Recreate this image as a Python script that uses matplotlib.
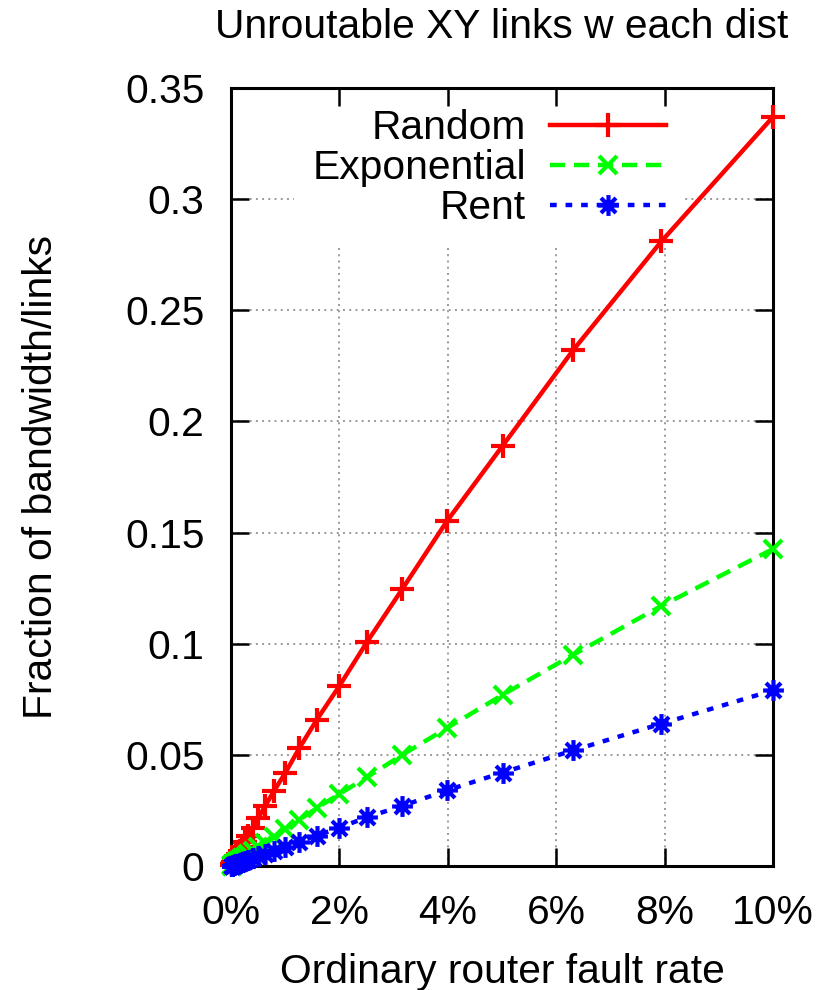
import matplotlib
matplotlib.use("Agg")
import matplotlib.pyplot as plt
from matplotlib.path import Path

plt.rcParams['font.family'] = ['Liberation Sans', 'DejaVu Sans']

# fault rate (fraction), log spaced from 10% down to 0.01%
fault_rate = [0.1, 0.0794, 0.0631, 0.0501, 0.0398, 0.0316, 0.0251, 0.02, 0.0158, 0.0126,
              0.01, 0.00794, 0.00631, 0.00501, 0.00398, 0.00316, 0.00251, 0.002, 0.00158, 0.00126,
              0.001, 0.000794, 0.000631, 0.000501, 0.000398, 0.000316, 0.000251, 0.0002, 0.000158,
              0.000126, 0.0001]

random_frac = [0.337, 0.281, 0.232, 0.189, 0.155, 0.1246, 0.1008, 0.081, 0.0657, 0.053,
               0.0418, 0.0338, 0.027, 0.0215, 0.0171, 0.0136, 0.0108, 0.0086, 0.0068, 0.0054,
               0.0043, 0.0034, 0.0027, 0.0022, 0.0017, 0.0014, 0.0011, 0.00087, 0.00069,
               0.00055, 0.00044]

expon_frac = [0.1426, 0.117, 0.095, 0.077, 0.062, 0.05, 0.04, 0.0324, 0.026, 0.0208,
              0.0166, 0.0132, 0.0105, 0.0084, 0.0067, 0.0053, 0.0042, 0.0034, 0.0027, 0.0021,
              0.0017, 0.00135, 0.00107, 0.00085, 0.00068, 0.00054, 0.00043, 0.00034, 0.00027,
              0.00021, 0.00017]

rent_frac = [0.079, 0.064, 0.052, 0.042, 0.034, 0.027, 0.022, 0.0172, 0.0137, 0.0109,
             0.0087, 0.0069, 0.0055, 0.0044, 0.0035, 0.0028, 0.0022, 0.00175, 0.0014, 0.0011,
             0.00088, 0.0007, 0.00056, 0.00044, 0.00035, 0.00028, 0.00022, 0.00018, 0.00014,
             0.00011, 0.000088]

xticks = [0, 0.02, 0.04, 0.06, 0.08, 0.1]
xtick_labels = ['0%', '2%', '4%', '6%', '8%', '10%']
yticks = [0, 0.05, 0.1, 0.15, 0.2, 0.25, 0.3, 0.35]
ytick_labels = ['0', '0.05', '0.1', '0.15', '0.2', '0.25', '0.3', '0.35']

FS = 29.3

# gnuplot style asterisk: plus and cross overlaid
d = 0.72
star = Path([(-1, 0), (1, 0), (0, -1), (0, 1), (-d, -d), (d, d), (-d, d), (d, -d)],
            [Path.MOVETO, Path.LINETO] * 4)

fig = plt.figure(figsize=(8.25, 9.9), dpi=100)
ax = fig.add_axes([231 / 825, 1 - 866 / 990, 542 / 825, 778 / 990])

ax.set_xlim(0, 0.1)
ax.set_ylim(0, 0.35)
ax.set_xticks(xticks)
ax.set_xticklabels(xtick_labels)
ax.set_yticks(yticks)
ax.set_yticklabels(ytick_labels)

# dotted grid drawn by hand so the key box can sit above it but below the ticks
for xv in xticks[1:-1]:
    ax.axvline(xv, color='#999999', lw=1.4, ls=(0, (1, 2.2)), zorder=0.5)
for yv in yticks[1:-1]:
    ax.axhline(yv, color='#999999', lw=1.4, ls=(0, (1, 2.2)), zorder=0.5)

ax.plot(fault_rate, random_frac, color='#ff0000', lw=3.2, ls='-', marker='+',
        ms=17, mew=3, label='Random', clip_on=False, zorder=3)
ax.plot(fault_rate, expon_frac, color='#00ff00', lw=3.2, dashes=(3.4, 2.0), marker='x',
        ms=13.5, mew=3, label='Exponential', clip_on=False, zorder=3.1)
ax.plot(fault_rate, rent_frac, color='#0000ff', lw=3.2, dashes=(1.5, 2.0), marker=star,
        ms=15, mew=3, label='Rent', clip_on=False, zorder=3.2)

ax.tick_params(direction='in', length=13, width=1.8, top=True, right=True,
               labelsize=FS, colors='black')
ax.tick_params(axis='x', pad=20)
ax.tick_params(axis='y', pad=19)
for sp in ax.spines.values():
    sp.set_linewidth(2.2)
    sp.set_zorder(2.5)

leg = ax.legend(loc='upper right', bbox_to_anchor=(0.837, 0.9965), borderaxespad=0,
                fontsize=FS, markerfirst=False, handlelength=2.85, handletextpad=0.6,
                labelspacing=0.05, borderpad=0.45, numpoints=1, frameon=True,
                fancybox=False, facecolor='white', edgecolor='none', framealpha=1)
leg.set_zorder(1)

fig.text(502 / 825, 1 - 38 / 990, 'Unroutable XY links w each dist', fontsize=FS,
         ha='center', va='baseline')
fig.text(502 / 825, 1 - 983 / 990, 'Ordinary router fault rate', fontsize=FS,
         ha='center', va='baseline')
fig.text(60 / 825, 1 - 477 / 990, 'Fraction of bandwidth/links', fontsize=FS,
         rotation=90, ha='right', va='center')

fig.savefig('out.png', dpi=100)
